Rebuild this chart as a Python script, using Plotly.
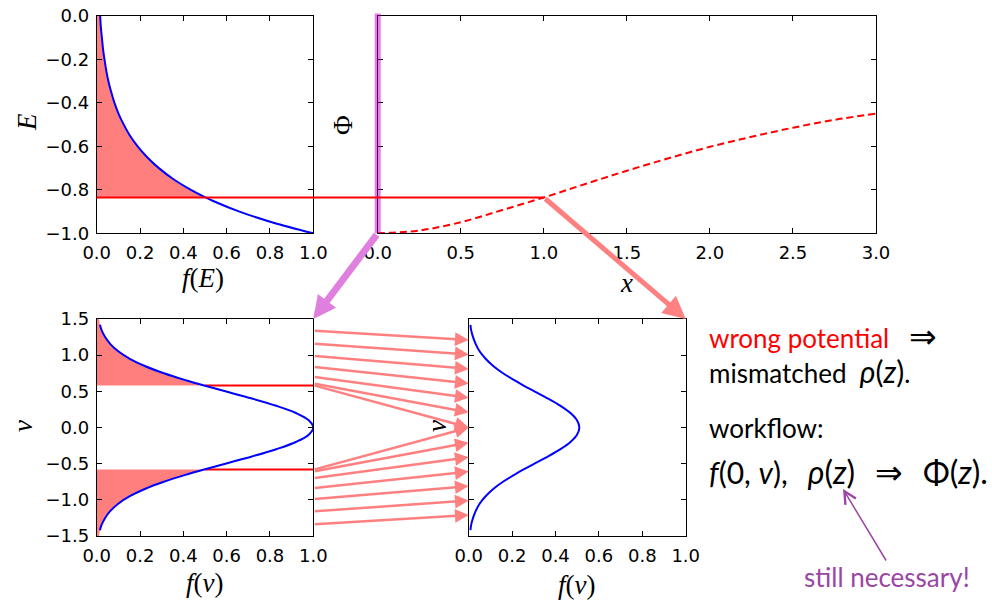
import plotly.graph_objects as go

# ---------------- data ----------------
E_vals = [0.0, -0.05, -0.1, -0.15, -0.2, -0.25, -0.3, -0.35, -0.4, -0.45, -0.5,
          -0.55, -0.6, -0.65, -0.7, -0.75, -0.8, -0.835, -0.85, -0.9, -0.95, -1.0]
fE_vals = [0.016, 0.019, 0.024, 0.029, 0.036, 0.044, 0.054, 0.067, 0.082, 0.101, 0.125,
           0.153, 0.189, 0.233, 0.287, 0.353, 0.435, 0.503, 0.535, 0.659, 0.812, 1.0]

x_vals = [0.0, 0.25, 0.5, 0.75, 1.0, 1.25, 1.5, 1.75, 2.0, 2.25, 2.5, 2.75, 3.0]
phi_vals = [-1.0, -0.987, -0.949, -0.893, -0.835, -0.773, -0.712, -0.655, -0.602,
            -0.556, -0.514, -0.478, -0.449]

v_vals = [-1.42, -1.35, -1.25, -1.15, -1.05, -0.95, -0.85, -0.75, -0.65, -0.58, -0.5,
          -0.4, -0.3, -0.2, -0.1, 0.0, 0.1, 0.2, 0.3, 0.4, 0.5, 0.58, 0.65, 0.75,
          0.85, 0.95, 1.05, 1.15, 1.25, 1.35, 1.42]
f0_vals = [0.015, 0.022, 0.039, 0.064, 0.101, 0.153, 0.222, 0.310, 0.415, 0.496, 0.594,
           0.717, 0.829, 0.920, 0.979, 1.0, 0.979, 0.920, 0.829, 0.717, 0.594, 0.496,
           0.415, 0.310, 0.222, 0.153, 0.101, 0.064, 0.039, 0.022, 0.015]
f1_vals = [0.008, 0.011, 0.020, 0.033, 0.051, 0.078, 0.113, 0.158, 0.212, 0.253, 0.303,
           0.366, 0.423, 0.469, 0.499, 0.510, 0.499, 0.469, 0.423, 0.366, 0.303, 0.253,
           0.212, 0.158, 0.113, 0.078, 0.051, 0.033, 0.020, 0.011, 0.008]

E_cut = -0.835      # energy level / potential at the chosen x
x_cut = 1.0         # position where Phi = E_cut
v_cut = 0.58        # |v| where f(0,v) = 0.5
f_at_vcut = 0.5
fill_edge_f = 0.01  # f at |v| = 1.5 (fill edge)

arrow_v_start = [1.34, 1.16, 0.99, 0.84, 0.70, 0.61, 0.585,
                 -0.585, -0.61, -0.70, -0.84, -0.99, -1.16, -1.34]
arrow_v_end = [1.21, 1.01, 0.81, 0.61, 0.41, 0.21, 0.0,
               0.0, -0.21, -0.41, -0.61, -0.81, -1.01, -1.21]

xt_f = [0.0, 0.2, 0.4, 0.6, 0.8, 1.0]
xt_f_text = ['0.0', '0.2', '0.4', '0.6', '0.8', '1.0']
yt_E = [-1.0, -0.8, -0.6, -0.4, -0.2, 0.0]
yt_E_text = ['\u22121.0', '\u22120.8', '\u22120.6', '\u22120.4', '\u22120.2', '0.0']
xt_x = [0.0, 0.5, 1.0, 1.5, 2.0, 2.5, 3.0]
xt_x_text = ['0.0', '0.5', '1.0', '1.5', '2.0', '2.5', '3.0']
yt_v = [-1.5, -1.0, -0.5, 0.0, 0.5, 1.0, 1.5]
yt_v_text = ['\u22121.5', '\u22121.0', '\u22120.5', '0.0', '0.5', '1.0', '1.5']

# ---------------- layout geometry ----------------
W, H = 992, 600
# pixel boxes: (left, right, top, bottom)
boxes = {
    'TL': (96.7, 313.3, 16.0, 233.3),
    'TR': (377.7, 876.0, 16.0, 233.3),
    'BL': (96.7, 313.3, 319.0, 536.0),
    'BM': (468.7, 685.7, 319.0, 536.0),
}
ranges = {
    'TL': ((0, 1), (-1, 0)),
    'TR': ((0, 3), (-1, 0)),
    'BL': ((0, 1), (-1.5, 1.5)),
    'BM': ((0, 1), (-1.5, 1.5)),
}
axid = {'TL': '', 'TR': '2', 'BL': '3', 'BM': '4'}


def dom(k):
    l, r, t, b = boxes[k]
    return [l / W, r / W], [1 - b / H, 1 - t / H]


def to_paper(k, xv, yv):
    (dx, dy) = dom(k)
    (xr, yr) = ranges[k]
    px = dx[0] + (xv - xr[0]) / (xr[1] - xr[0]) * (dx[1] - dx[0])
    py = dy[0] + (yv - yr[0]) / (yr[1] - yr[0]) * (dy[1] - dy[0])
    return px, py


def to_axis(k, px, py):
    (dx, dy) = dom(k)
    (xr, yr) = ranges[k]
    xv = xr[0] + (px - dx[0]) / (dx[1] - dx[0]) * (xr[1] - xr[0])
    yv = yr[0] + (py - dy[0]) / (dy[1] - dy[0]) * (yr[1] - yr[0])
    return xv, yv


BLUE = '#0000FF'
RED = '#FF0000'
SALMON = 'rgb(255,128,128)'
FILL = 'rgba(255,0,0,0.5)'
MAG = 'rgb(223,128,223)'
MAGA = 'rgba(191,0,191,0.5)'
PURPLE = 'rgb(155,70,165)'

fig = go.Figure()


def tr(k):
    return dict(xaxis='x' + axid[k], yaxis='y' + axid[k])


# --- top-left: f(E)
pts = [(f, e) for f, e in zip(fE_vals, E_vals) if e >= E_cut]
fx = [0] + [p[0] for p in pts] + [0]
fy = [pts[0][1]] + [p[1] for p in pts] + [E_cut]
fig.add_trace(go.Scatter(x=fx, y=fy, fill='toself', fillcolor=FILL, mode='none',
                         hoverinfo='skip', **tr('TL')))
fig.add_trace(go.Scatter(x=fE_vals, y=E_vals, mode='lines', line=dict(color=BLUE, width=2, shape='spline'),
                         **tr('TL')))

# --- top-right: Phi(x)
fig.add_trace(go.Scatter(x=x_vals, y=phi_vals, mode='lines',
                         line=dict(color=RED, width=2, dash='7px,4px', shape='spline'), **tr('TR')))

# --- bottom-left: f(0, v)
up = [(f, v) for f, v in zip(f0_vals, v_vals) if v >= v_cut]
lo = [(f, v) for f, v in zip(f0_vals, v_vals) if v <= -v_cut]
ux = [0] + [p[0] for p in up] + [fill_edge_f, 0]
uy = [v_cut] + [p[1] for p in up] + [1.5, 1.5]
lx = [0, fill_edge_f] + [p[0] for p in lo] + [0]
ly = [-1.5, -1.5] + [p[1] for p in lo] + [-v_cut]
for X, Y in ((ux, uy), (lx, ly)):
    fig.add_trace(go.Scatter(x=X, y=Y, fill='toself', fillcolor=FILL, mode='none',
                             hoverinfo='skip', **tr('BL')))
for s in (1, -1):
    fig.add_trace(go.Scatter(x=[f_at_vcut, 1.0], y=[s * v_cut, s * v_cut], mode='lines',
                             line=dict(color=RED, width=2), **tr('BL')))
fig.add_trace(go.Scatter(x=f0_vals, y=v_vals, mode='lines', line=dict(color=BLUE, width=2, shape='spline'),
                         **tr('BL')))

# --- bottom-middle: f(x_cut, v)
fig.add_trace(go.Scatter(x=f1_vals, y=v_vals, mode='lines', line=dict(color=BLUE, width=2, shape='spline'),
                         **tr('BM')))

# ---------------- axes ----------------
tickfont = dict(family='DejaVu Sans', size=18, color='black')


def axis(k, letter, tickvals, ticktext, labels=True):
    d = dom(k)[0 if letter == 'x' else 1]
    r = ranges[k][0 if letter == 'x' else 1]
    other = ('y' if letter == 'x' else 'x') + axid[k]
    return dict(domain=d, range=list(r), anchor=other, showline=True, linecolor='black',
                linewidth=1, mirror='allticks', ticks='inside', ticklen=5, tickcolor='black',
                tickwidth=1, showgrid=False, zeroline=False, tickvals=tickvals,
                ticktext=ticktext, showticklabels=labels, tickfont=tickfont,
                ticklabelstandoff=3, automargin=False)


lay = {}
lay['xaxis'] = axis('TL', 'x', xt_f, xt_f_text)
lay['yaxis'] = axis('TL', 'y', yt_E, yt_E_text)
lay['xaxis2'] = axis('TR', 'x', xt_x, xt_x_text)
lay['yaxis2'] = axis('TR', 'y', yt_E, yt_E_text, labels=False)
lay['xaxis3'] = axis('BL', 'x', xt_f, xt_f_text)
lay['yaxis3'] = axis('BL', 'y', yt_v, yt_v_text)
lay['xaxis4'] = axis('BM', 'x', xt_f, xt_f_text)
lay['yaxis4'] = axis('BM', 'y', yt_v, yt_v_text, labels=False)
fig.update_layout(**lay)

# ---------------- shapes ----------------
shapes = []
# violet bar at x = 0 of the potential panel
bx, by0 = to_paper('TR', 0.0, -1.0)
_, by1 = to_paper('TR', 0.0, 0.0)
shapes.append(dict(type='line', xref='paper', yref='paper', x0=bx, x1=bx, y0=by0, y1=by1 + 0.004,
                   line=dict(color=MAGA, width=6), layer='above'))
# horizontal energy line from f(E) panel into potential panel
lx0, ly0 = to_paper('TL', 0.0, E_cut)
lx1, _ = to_paper('TR', x_cut, E_cut)
shapes.append(dict(type='line', xref='paper', yref='paper', x0=lx0, x1=lx1, y0=ly0, y1=ly0,
                   line=dict(color=RED, width=2), layer='above'))
fig.update_layout(shapes=shapes)

# ---------------- annotations ----------------
ann = []


def arrow(k_head, xh, yh, k_tail, xt, yt, color, width, head, size):
    axv, ayv = to_axis(k_head, *to_paper(k_tail, xt, yt))
    ann.append(dict(xref='x' + axid[k_head], yref='y' + axid[k_head], x=xh, y=yh,
                    axref='x' + axid[k_head], ayref='y' + axid[k_head], ax=axv, ay=ayv,
                    text='', showarrow=True, arrowcolor=color, arrowwidth=width,
                    arrowhead=head, arrowsize=size, standoff=0, startstandoff=0))


for vs, ve in zip(arrow_v_start, arrow_v_end):
    arrow('BM', 0.0, ve, 'BL', 1.0, vs, SALMON, 2.5, 2, 1.1)
arrow('BL', 1.0, 1.5, 'TR', 0.0, -1.0, MAG, 7, 2, 0.65)
arrow('BM', 1.0, 1.5, 'TR', x_cut, E_cut, SALMON, 5, 2, 0.9)

SERIF = 'Liberation Serif'


def label(text, px, py, angle=0, size=27):
    ann.append(dict(xref='paper', yref='paper', x=px / W, y=1 - py / H, text=text,
                    showarrow=False, textangle=angle, xanchor='center', yanchor='middle',
                    font=dict(family=SERIF, size=size, color='black')))


label('<i>f</i>(<i>E</i>)', 203, 278)
label('<i>E</i>', 27, 122, -90)
label('Φ', 343, 125, -90)
label('<i>x</i>', 626, 283)
label('<i>v</i>', 23, 426, -90)
label('<i>f</i>(<i>v</i>)', 205, 583)
label('<i>v</i>', 437, 426, -90)
label('<i>f</i>(<i>v</i>)', 577, 585)

SANS = 'Lato'


def rtext(text, px, py, color='black', anchor='left', size=26):
    ann.append(dict(xref='paper', yref='paper', x=px / W, y=1 - py / H, text=text,
                    showarrow=False, xanchor=anchor, yanchor='middle',
                    font=dict(family=SANS, size=size, color=color)))


def M(s, size=30):
    return '<span style="font-size:%dpx">' % size + s + '</span>'


ARR = '<span style="font-size:33px">⇒</span>'
NB = '\u00a0'
rtext('<span style="color:#FF0000">wrong potential</span>' + NB * 3 + ARR, 707, 335)
rtext('mismatched' + NB * 2 + M('<i>ρ</i>(<i>z</i>)') + '.', 707, 371)
rtext('workflow:', 707, 428)
rtext(M('<i>f</i>(0,' + NB + '<i>v</i>),') + NB * 3 + M('<i>ρ</i>(<i>z</i>)', 32) +
      NB * 3 + ARR + NB * 3 + M('Φ(<i>z</i>).', 32), 707, 471)
rtext('still necessary!', 887, 577, color=PURPLE, anchor='center')
ann.append(dict(xref='paper', yref='paper', x=843 / W, y=1 - 489 / H, ax=44, ay=73,
                text='', showarrow=True, arrowcolor=PURPLE, arrowwidth=1.5, arrowhead=5,
                arrowsize=1.6, standoff=0))

fig.update_layout(annotations=ann, width=W, height=H,
                  margin=dict(l=0, r=0, t=0, b=0, pad=0, autoexpand=False),
                  paper_bgcolor='white', plot_bgcolor='white', showlegend=False)

fig.write_html('out.html')
